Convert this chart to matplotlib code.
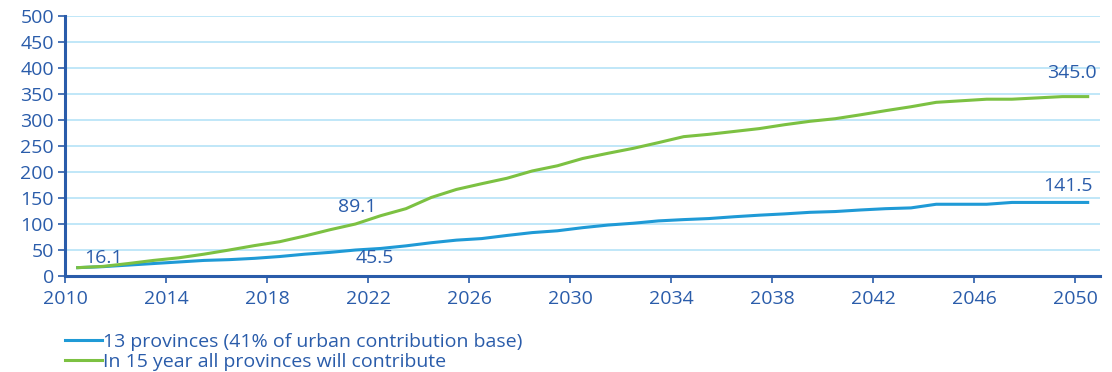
import numpy as np
import matplotlib.pyplot as plt

plt.rcParams['font.family'] = ['Open Sans', 'DejaVu Sans']

years = np.arange(2010, 2051)
provinces_13 = [16.1, 18, 21, 24, 27, 30, 31.5, 34, 37.5, 42,
                45.5, 50, 53, 58, 64, 69, 72, 78, 83.5, 87,
                93, 98, 101.5, 106, 108.5, 110.5, 114, 117, 119.5, 122.5,
                124, 127, 129.5, 131, 138, 138, 138, 141.5, 141.5, 141.5,
                141.5]
all_provinces = [16.1, 18.5, 24, 30, 35, 42, 50, 58.5, 66, 77,
                 89.1, 100, 116, 129.5, 151, 166.5, 177.5, 188, 202, 212,
                 226, 236, 245.5, 256.5, 268, 272.5, 278, 283.5, 291, 297.5,
                 302.5, 310, 318, 325.5, 334, 337, 340, 340, 342.5, 345,
                 345.0]
series_names = ['13 provinces (41% of urban contribution base)',
                'In 15 year all provinces will contribute']
tick_years = np.arange(2010, 2051, 4)

text_col = '#2a5caa'
blue = '#1f9ad6'
green = '#7cc142'
fs = 14

fig = plt.figure(figsize=(11.12, 3.72), dpi=100)
ax = fig.add_axes([0.0585, 0.258, 0.931, 0.699])

# category axis: each year sits in the middle of its slot
xpos = years + 0.5
ax.plot(xpos, provinces_13, color=blue, lw=2.2, label=series_names[0])
ax.plot(xpos, all_provinces, color=green, lw=2.2, label=series_names[1])

ax.set_xlim(2010, 2051)
ax.set_ylim(0, 500)
ax.set_yticks(np.arange(0, 501, 50))
ax.set_xticks(tick_years)
ax.set_xticklabels([str(y) for y in tick_years])
ax.yaxis.grid(True, color='#b5e3f7', lw=1.2)
ax.set_axisbelow(True)

for s in ['top', 'right']:
    ax.spines[s].set_visible(False)
for s in ['left', 'bottom']:
    ax.spines[s].set_color(text_col)
    ax.spines[s].set_linewidth(2.2)
ax.tick_params(colors=text_col, labelsize=fs, length=5, width=1.2)
ax.tick_params(axis='x', pad=5)
ax.tick_params(axis='y', pad=3)

# value labels
labels = [(0, provinces_13[0], '16.1', (26, 10)),
          (10, all_provinces[10], '89.1', (27, 23)),
          (10, provinces_13[10], '45.5', (45, -6)),
          (40, all_provinces[40], '345.0', (-16, 24)),
          (40, provinces_13[40], '141.5', (-20, 16))]
for i, v, txt, off in labels:
    ax.annotate(txt, (xpos[i], v), xytext=off, textcoords='offset pixels',
                ha='center', va='center', color=text_col, fontsize=fs)

leg = fig.legend(loc='upper left', bbox_to_anchor=(0.0514, 0.125), frameon=False,
                 fontsize=fs, handlelength=1.9, handletextpad=0.05,
                 labelspacing=0.08, borderaxespad=0)
for t in leg.get_texts():
    t.set_color(text_col)

fig.savefig('out.png', dpi=100, facecolor='white')
